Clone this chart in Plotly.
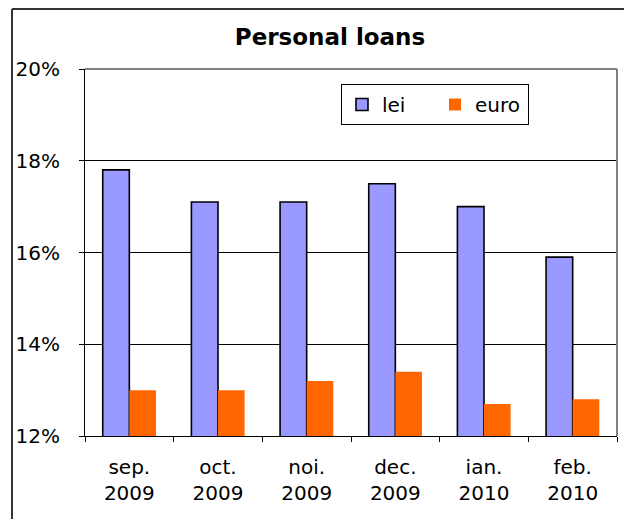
import plotly.graph_objects as go

categories = ["sep.<br>2009", "oct.<br>2009", "noi.<br>2009", "dec.<br>2009", "ian.<br>2010", "feb.<br>2010"]
lei = [17.8, 17.1, 17.1, 17.5, 17.0, 15.9]
euro = [13.0, 13.0, 13.2, 13.4, 12.7, 12.8]
y_ticks = [12, 14, 16, 18, 20]
y_tick_labels = ["12%", "14%", "16%", "18%", "20%"]

FONT = "DejaVu Sans"
OFF = 8  # browser body margin
W, H = 632 - 2 * OFF, 527 - 2 * OFF


def fx(px):
    return px - OFF


def fy(py):
    return py - OFF


L = fx(85)
R = W - fx(617)
T = fy(69)
B = H - fy(436)
pw = W - L - R
ph = H - T - B


def paper_x(px):
    return (fx(px) - L) / pw


def paper_y(py):
    return (H - B - fy(py)) / ph


fig = go.Figure()
fig.add_trace(go.Bar(x=categories, y=lei, name="lei",
                     marker=dict(color="#9999FF", line=dict(color="black", width=1.6))))
fig.add_trace(go.Bar(x=categories, y=euro, name="euro",
                     marker=dict(color="#FF6600", line=dict(width=0))))

fig.update_layout(
    width=W, height=H,
    margin=dict(l=L, r=R, t=T, b=B),
    paper_bgcolor="white", plot_bgcolor="white",
    font=dict(family=FONT, size=20, color="black"),
    barmode="group", bargap=0.4, bargroupgap=0,
    title=dict(text="<b>Personal loans</b>", x=fx(330) / W, xref="container", xanchor="center",
               y=1 - fy(37) / H, yref="container", yanchor="middle",
               font=dict(family=FONT, size=23, color="black")),
    showlegend=True,
    legend=dict(orientation="h", x=paper_x(341), y=paper_y(84),
                xanchor="left", yanchor="top",
                bordercolor="black", borderwidth=1, bgcolor="white",
                font=dict(family=FONT, size=20), entrywidth=48,
                itemclick=False),
    xaxis=dict(showline=True, linecolor="black", linewidth=1,
               ticks="outside", ticklen=5, tickcolor="black", tickson="boundaries",
               showgrid=False, ticklabelstandoff=13,
               tickfont=dict(family=FONT, size=20)),
    yaxis=dict(range=[12, 20], tickmode="array", tickvals=y_ticks, ticktext=y_tick_labels,
               showline=True, linecolor="black", linewidth=1,
               ticks="outside", ticklen=5, tickcolor="black",
               showgrid=True, gridcolor="black", gridwidth=1,
               zeroline=False, ticklabelstandoff=15,
               tickfont=dict(family=FONT, size=20)),
    shapes=[
        dict(type="line", xref="paper", yref="paper", x0=0, x1=1, y0=1, y1=1,
             line=dict(color="#808080", width=2), layer="above"),
        dict(type="line", xref="paper", yref="paper", x0=1, x1=1, y0=0, y1=1,
             line=dict(color="#808080", width=2), layer="above"),
        dict(type="line", xref="paper", yref="paper",
             x0=paper_x(12), x1=paper_x(12), y0=paper_y(527), y1=paper_y(9),
             line=dict(color="#333333", width=2)),
        dict(type="line", xref="paper", yref="paper",
             x0=paper_x(12), x1=paper_x(632), y0=paper_y(9), y1=paper_y(9),
             line=dict(color="#333333", width=2)),
    ],
)

fig.write_html("out.html")
